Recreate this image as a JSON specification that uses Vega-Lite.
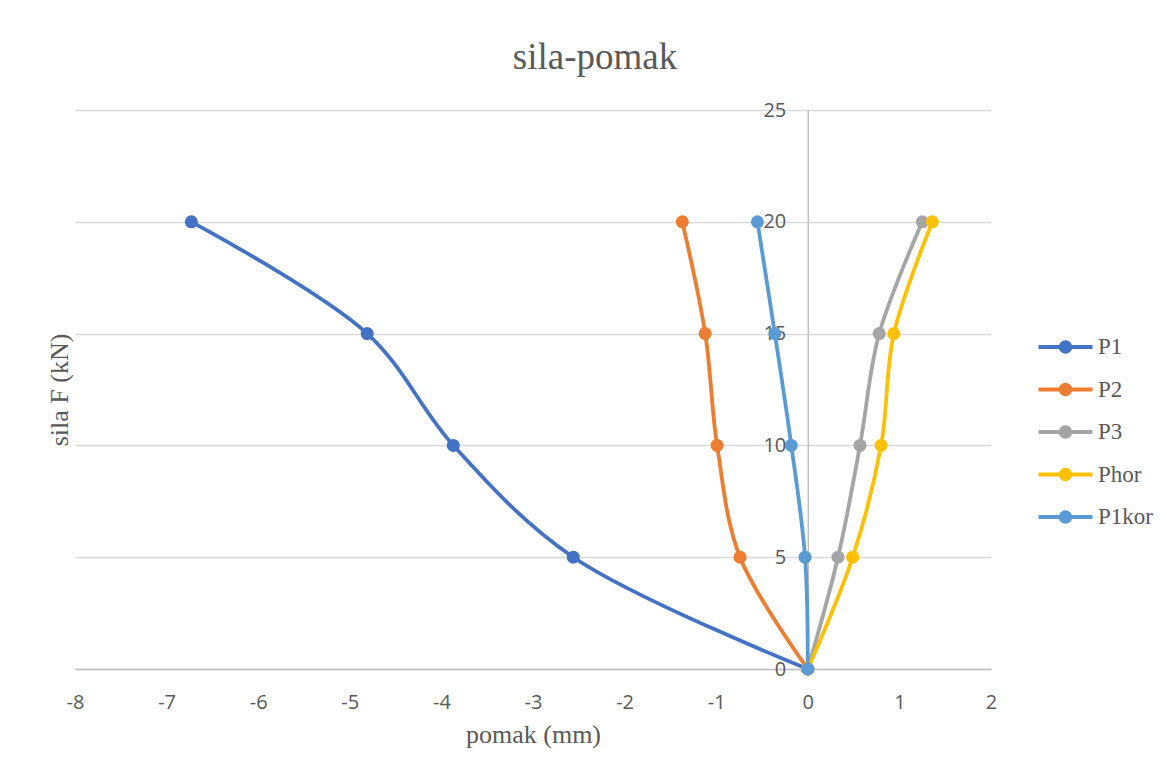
{
  "$schema": "https://vega.github.io/schema/vega-lite/v6.json",
  "width": 916,
  "height": 559,
  "autosize": {"type": "none"},
  "padding": {"left": 75, "top": 110, "right": 176, "bottom": 107},
  "background": "white",
  "config": {"view": {"stroke": null}},
  "title": {
    "text": "sila-pomak",
    "font": "Liberation Serif",
    "fontSize": 37,
    "fontWeight": "normal",
    "color": "#595959",
    "anchor": "middle",
    "frame": "group",
    "dx": 62,
    "dy": 39,
    "baseline": "alphabetic",
    "offset": 33
  },
  "data": {
    "values": [
      {"series": "P1", "d": 0, "F": 0},
      {"series": "P1", "d": -2.56, "F": 5},
      {"series": "P1", "d": -3.87, "F": 10},
      {"series": "P1", "d": -4.81, "F": 15},
      {"series": "P1", "d": -6.73, "F": 20},
      {"series": "P2", "d": 0, "F": 0},
      {"series": "P2", "d": -0.74, "F": 5},
      {"series": "P2", "d": -0.99, "F": 10},
      {"series": "P2", "d": -1.12, "F": 15},
      {"series": "P2", "d": -1.37, "F": 20},
      {"series": "P3", "d": 0, "F": 0},
      {"series": "P3", "d": 0.33, "F": 5},
      {"series": "P3", "d": 0.57, "F": 10},
      {"series": "P3", "d": 0.78, "F": 15},
      {"series": "P3", "d": 1.25, "F": 20},
      {"series": "Phor", "d": 0, "F": 0},
      {"series": "Phor", "d": 0.49, "F": 5},
      {"series": "Phor", "d": 0.8, "F": 10},
      {"series": "Phor", "d": 0.94, "F": 15},
      {"series": "Phor", "d": 1.36, "F": 20},
      {"series": "P1kor", "d": 0, "F": 0},
      {"series": "P1kor", "d": -0.03, "F": 5},
      {"series": "P1kor", "d": -0.18, "F": 10},
      {"series": "P1kor", "d": -0.36, "F": 15},
      {"series": "P1kor", "d": -0.55, "F": 20}
    ]
  },
  "encoding": {
    "x": {
      "field": "d",
      "type": "quantitative",
      "scale": {"domain": [-8, 2], "nice": false, "zero": false},
      "axis": {
        "values": [-8, -7, -6, -5, -4, -3, -2, -1, 0, 1, 2],
        "labelExpr": "toString(datum.value)",
        "labelFlush": false,
        "labelOverlap": false,
        "grid": false,
        "ticks": false,
        "domainColor": "#bfbfbf",
        "domainWidth": 1.5,
        "labelFont": "Open Sans",
        "labelFontSize": 20,
        "labelColor": "#595959",
        "labelPadding": 23,
        "title": "pomak (mm)",
        "titleFont": "Liberation Serif",
        "titleFontSize": 26,
        "titleFontWeight": "normal",
        "titleColor": "#595959",
        "titlePadding": 9
      }
    },
    "y": {
      "field": "F",
      "type": "quantitative",
      "scale": {"domain": [0, 25], "nice": false},
      "axis": {
        "values": [0, 5, 10, 15, 20, 25],
        "labelExpr": "toString(datum.value)",
        "labelFlush": false,
        "labelOverlap": false,
        "offset": -732.8,
        "grid": true,
        "gridColor": "#d9d9d9",
        "gridWidth": 1.5,
        "ticks": false,
        "domainColor": "#bfbfbf",
        "domainWidth": 1.5,
        "labelFont": "Open Sans",
        "labelFontSize": 20,
        "labelColor": "#595959",
        "labelPadding": 22,
        "title": "sila F (kN)",
        "titleFont": "Liberation Serif",
        "titleFontSize": 26,
        "titleFontWeight": "normal",
        "titleColor": "#595959",
        "titleAngle": 270,
        "titleAlign": "center",
        "titleBaseline": "middle",
        "titleX": -748,
        "titleY": 279.5
      }
    },
    "color": {
      "field": "series",
      "type": "nominal",
      "scale": {
        "domain": ["P1", "P2", "P3", "Phor", "P1kor"],
        "range": ["#4472C4", "#ED7D31", "#A5A5A5", "#FFC000", "#5B9BD5"]
      },
      "legend": {
        "title": null,
        "orient": "none",
        "legendX": 975,
        "legendY": 221.5,
        "padding": 0,
        "symbolType": "M-2,0L2,0M0.36,0A0.36,0.36 0 1,1 -0.36,0A0.36,0.36 0 1,1 0.36,0Z",
        "symbolSize": 729,
        "symbolStrokeWidth": 3.8,
        "labelFont": "Liberation Serif",
        "labelFontSize": 23,
        "labelColor": "#595959",
        "labelOffset": 17,
        "rowPadding": 14.5,
        "encode": {
          "symbols": {
            "update": {
              "fill": {"scale": "color", "field": "value"},
              "stroke": {"scale": "color", "field": "value"},
              "opacity": {"value": 1},
              "fillOpacity": {"value": 1},
              "strokeOpacity": {"value": 1}
            }
          }
        }
      }
    }
  },
  "layer": [
    {
      "mark": {"type": "line", "interpolate": "catmull-rom", "strokeWidth": 3.8},
      "encoding": {"order": {"field": "F", "type": "quantitative"}}
    },
    {
      "mark": {"type": "point", "filled": true, "opacity": 1, "size": 170, "shape": "circle"}
    }
  ]
}
